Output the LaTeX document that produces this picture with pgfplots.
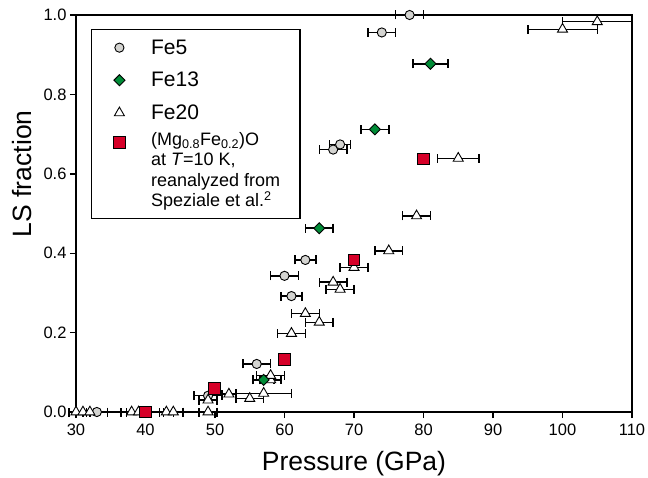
\documentclass[border=0pt]{standalone}
\usepackage{fontspec}
\setmainfont{Liberation Sans}
\usepackage{pgfplots}
\pgfplotsset{compat=1.18}

\definecolor{fefive}{RGB}{212,212,209}
\definecolor{fethirteen}{RGB}{0,140,55}
\definecolor{mgfe}{RGB}{214,0,40}

\pgfplotsset{
  legimg/.style={legend image code/.code={%
    \path (-9pt,0pt) (29pt,0pt);
    \draw[##1] plot coordinates {(0pt,0pt)};}},
  xerr/.style={error bars/.cd, x dir=both, x explicit,
    error bar style={line width=1.5pt, black},
    error mark=|,
    error mark options={mark size=4.5pt, line width=1.5pt, black}},
}
\newcommand{\legsmall}{\fontsize{18}{21}\selectfont}

\begin{document}
\begin{tikzpicture}
\begin{axis}[
  name=ax,
  scale only axis,
  width=556pt, height=397pt,
  xmin=30, xmax=110, ymin=0, ymax=1.0,
  xtick={30,40,50,60,70,80,90,100,110},
  ytick={0,0.2,0.4,0.6,0.8,1.0},
  yticklabel style={/pgf/number format/.cd, fixed, fixed zerofill, precision=1},
  xticklabel style={yshift=-2pt},
  /pgf/number format/assume math mode=true,
  tick pos=left,
  tick align=outside,
  major tick length=6pt,
  axis line style={line width=1.4pt},
  every tick/.style={black, line width=1.4pt},
  tick label style={font=\fontsize{16.5}{19}\selectfont},
  xlabel={Pressure (GPa)},
  ylabel={LS fraction},
  xlabel style={font=\fontsize{26.5}{31}\selectfont, at={(axis description cs:0.5,0)}, anchor=base, yshift=-58pt},
  ylabel style={font=\fontsize{26.5}{31}\selectfont, at={(axis description cs:-0.0971,0.6)}, anchor=center},
  clip=false,
  legend cell align=left,
  legend style={at={(0,1)}, anchor=north west, xshift=15pt, yshift=-14pt,
    draw=black, line width=1.4pt, font=\fontsize{21}{25}\selectfont,
    inner xsep=18pt, inner ysep=8pt, row sep=12.5pt},
]
% legend
\addlegendimage{only marks, legimg, mark=*, mark size=4.6pt, mark options={fill=fefive, draw=black, line width=0.9pt}}
\addlegendentry{Fe5}
\addlegendimage{only marks, legimg, mark=square*, mark size=3.9pt, mark options={rotate=45, fill=fethirteen, draw=black, line width=0.9pt}}
\addlegendentry{Fe13}
\addlegendimage{only marks, legimg, mark=triangle*, mark size=5.8pt, mark options={fill=white, draw=black, line width=0.9pt}}
\addlegendentry{Fe20}
\addlegendimage{only marks, legimg, mark=square*, mark size=5.8pt, mark options={fill=mgfe, draw=black, line width=0.9pt}}
\addlegendentry{\raisebox{0pt}[8pt][0pt]{\legsmall(Mg\textsubscript{0.8}Fe\textsubscript{0.2})O}}
\addlegendimage{empty legend}
\addlegendentry{\raisebox{0pt}[2.5pt][0pt]{\legsmall at \textit{T}=10 K,}}
\addlegendimage{empty legend}
\addlegendentry{\raisebox{0pt}[2.5pt][0pt]{\legsmall reanalyzed from}}
\addlegendimage{empty legend}
\addlegendentry{\raisebox{0pt}[2.5pt][0pt]{\legsmall Speziale et al.\textsuperscript{2}}}

% Fe5
\addplot[forget plot, only marks, mark=*, mark size=4.6pt,
  mark options={fill=fefive, draw=black, line width=0.9pt}, xerr]
coordinates {
  (33,0) +- (1.5,0)
  (49,0.041) +- (2,0)
  (56,0.121) +- (2,0)
  (61,0.292) +- (1.5,0)
  (60,0.343) +- (2,0)
  (63,0.383) +- (1.5,0)
  (67,0.661) +- (2,0)
  (68,0.674) +- (1.5,0)
  (74,0.956) +- (2,0)
  (78,1.0) +- (2,0)
};
% Fe20
\addplot[forget plot, only marks, mark=triangle*, mark size=5.8pt,
  mark options={fill=white, draw=black, line width=0.9pt}, xerr]
coordinates {
  (30,0) +- (1,0)
  (31,0) +- (1,0)
  (32,0) +- (1,0)
  (38,0) +- (1.5,0)
  (39,0) +- (1.7,0)
  (43,0) +- (1,0)
  (44,0) +- (1.4,0)
  (49,0) +- (1.3,0)
  (49,0.03) +- (1.3,0)
  (52,0.045) +- (1,0)
  (55,0.034) +- (2,0)
  (57,0.047) +- (4,0)
  (58,0.081) +- (1.5,0)
  (58,0.092) +- (2,0)
  (61,0.198) +- (2,0)
  (63,0.248) +- (2,0)
  (65,0.226) +- (2,0)
  (67,0.327) +- (2,0)
  (68,0.309) +- (2,0)
  (70,0.364) +- (2,0)
  (75,0.406) +- (2,0)
  (79,0.494) +- (2,0)
  (85,0.639) +- (3,0)
  (100,0.964) +- (5,0)
  (105,0.983) +- (5,0)
};
% Fe13
\addplot[forget plot, only marks, mark=square*, mark size=3.9pt,
  mark options={rotate=45, fill=fethirteen, draw=black, line width=0.9pt}, xerr]
coordinates {
  (57,0.081) +- (1.5,0)
  (65,0.463) +- (2,0)
  (73,0.712) +- (2,0)
  (81,0.877) +- (2.5,0)
};
% (Mg0.8Fe0.2)O, Speziale et al.
\addplot[forget plot, only marks, mark=square*, mark size=5.8pt,
  mark options={fill=mgfe, draw=black, line width=0.9pt}]
coordinates {
  (40,0) (49.9,0.059) (60,0.133) (70,0.383) (80,0.637)
};
\end{axis}
\pgfresetboundingbox
\path ([shift={(-76pt,-65pt)}]ax.south west) rectangle ([shift={(16pt,15pt)}]ax.north east);
\end{tikzpicture}
\end{document}
